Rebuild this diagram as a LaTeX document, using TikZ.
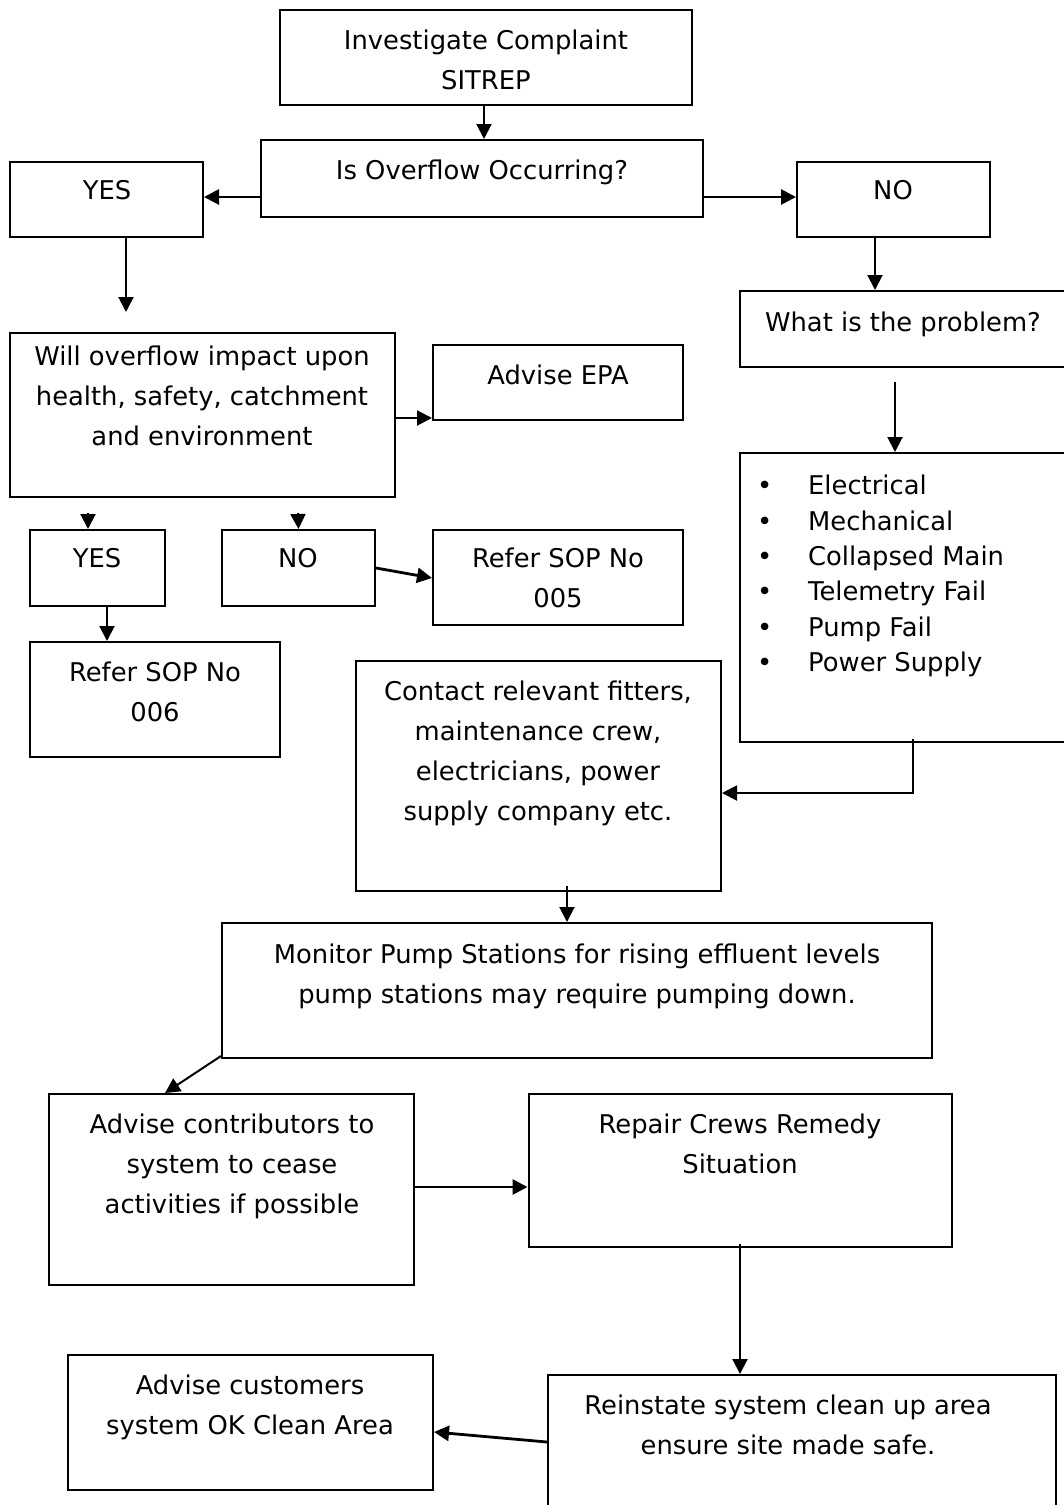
\documentclass[tikz,border=0pt]{standalone}
\usepackage{fontspec}
\setmainfont{DejaVu Sans}
\usetikzlibrary{arrows.meta}
\begin{document}
\begin{tikzpicture}[x=1pt,y=-1pt,
  box/.style={draw=black,line width=2pt,inner sep=0pt},
  txt/.style={align=center,inner sep=0pt,font=\fontsize{25.8}{40}\selectfont},
  arr/.style={draw=black,line width=2pt,-{Triangle[length=15pt,width=15pt]}},
  thickarr/.style={arr,line width=2.8pt}]
\clip (0,0) rectangle (1064,1505);
\fill[white] (0,0) rectangle (1064,1505);

% boxes
\node[box,minimum width=412pt,minimum height=95pt]  (b1)   at (486,57.5) {};
\node[box,minimum width=442pt,minimum height=77pt]  (b2)   at (482,178.5) {};
\node[box,minimum width=193pt,minimum height=75pt]  (yes1) at (106.5,199.5) {};
\node[box,minimum width=193pt,minimum height=75pt]  (no1)  at (893.5,199.5) {};
\node[box,minimum width=335pt,minimum height=76pt]  (what) at (907.5,329) {};
\node[box,minimum width=335pt,minimum height=289pt] (bul)  at (907.5,597.5) {};
\node[box,minimum width=385pt,minimum height=164pt] (wil)  at (202.5,415) {};
\node[box,minimum width=250pt,minimum height=75pt]  (epa)  at (558,382.5) {};
\node[box,minimum width=135pt,minimum height=76pt]  (yes2) at (97.5,568) {};
\node[box,minimum width=153pt,minimum height=76pt]  (no2)  at (298.5,568) {};
\node[box,minimum width=250pt,minimum height=95pt]  (s005) at (558,577.5) {};
\node[box,minimum width=250pt,minimum height=115pt] (s006) at (155,699.5) {};
\node[box,minimum width=365pt,minimum height=230pt] (cont) at (538.5,776) {};
\node[box,minimum width=710pt,minimum height=135pt] (mon)  at (577,990.5) {};
\node[box,minimum width=365pt,minimum height=191pt] (advc) at (231.5,1189.5) {};
\node[box,minimum width=423pt,minimum height=153pt] (rep)  at (740,1170.5) {};
\node[box,minimum width=508pt,minimum height=140pt] (rein) at (802,1445) {};
\node[box,minimum width=365pt,minimum height=135pt] (cust) at (250.5,1422.5) {};

% texts
\node[txt] (b1t)   at (486,60) {Investigate Complaint\\SITREP};
\node[txt] (b2t)   at (482,172) {Is Overflow Occurring?};
\node[txt] (yes1t) at (107,190) {YES};
\node[txt] (no1t)  at (893,190) {NO};
\node[txt] (whatt) at (903,324) {What is the problem?};
\node[txt] (wilt)  at (202,396) {Will overflow impact upon\\health, safety, catchment\\and environment};
\node[txt] (epat)  at (558,375) {Advise EPA};
\node[txt] (yes2t) at (97,558) {YES};
\node[txt] (no2t)  at (298,558) {NO};
\node[txt] (s005t) at (558,578) {Refer SOP No\\005};
\node[txt] (s006t) at (155,691.5) {Refer SOP No\\006};
\node[txt,align=left,anchor=west,font=\fontsize{25.8}{35.4}\selectfont] (bult) at (757,576)
  {\makebox[51pt][l]{•}Electrical\\
   \makebox[51pt][l]{•}Mechanical\\
   \makebox[51pt][l]{•}Collapsed Main\\
   \makebox[51pt][l]{•}Telemetry Fail\\
   \makebox[51pt][l]{•}Pump Fail\\
   \makebox[51pt][l]{•}Power Supply};
\node[txt] (contt) at (538,753.5) {Contact relevant fitters,\\maintenance crew,\\electricians, power\\supply company etc.};
\node[txt] (mont)  at (577,976) {Monitor Pump Stations for rising effluent levels\\pump stations may require pumping down.};
\node[txt] (advct) at (232,1166) {Advise contributors to\\system to cease\\activities if possible};
\node[txt] (rept)  at (740,1144) {Repair Crews Remedy\\Situation};
\node[txt] (reint) at (788,1425) {Reinstate system clean up area\\ensure site made safe.};
\node[txt] (custt) at (250,1407) {Advise customers\\system OK Clean Area};

% free ends of the short arrows
\coordinate (c1e) at (126,312);
\coordinate (c2) at (895,382);
\coordinate (c3) at (88,513);
\coordinate (c4) at (298,513);

% connectors
\draw[arr] ([xshift=-2pt]b1.south) -- ([xshift=2pt]b2.north);
\draw[thickarr] ([yshift=-18.5pt]b2.west) -- ([yshift=2.5pt]yes1.east);
\draw[thickarr] ([yshift=-18.5pt]b2.east) -- ([yshift=2.5pt]no1.west);
\draw[arr] ([xshift=19.5pt]yes1.south) -- (c1e);
\draw[arr] ([xshift=-18.5pt]no1.south) -- ([xshift=-32.5pt]what.north);
\draw[arr] (c2) -- ([xshift=-12.5pt]bul.north);
\draw[arr] ([yshift=-3pt]wil.east) -- ([yshift=-35.5pt]epa.west);
\draw[arr] (c3) -- ([xshift=-9.5pt]yes2.north);
\draw[arr] (c4) -- (no2.north);
\draw[thickarr] (no2.east) -- ([yshift=-0.5pt]s005.west);
\draw[arr] ([xshift=9.5pt]yes2.south) -- ([xshift=-48pt]s006.north);
\draw[arr] ([xshift=5.5pt,yshift=4pt]bul.south) |- ([yshift=-17pt]cont.east);
\draw[arr] ([xshift=28.5pt,yshift=6pt]cont.south) -- ([xshift=-10pt]mon.north);
\draw[arr] ([yshift=3pt]mon.south west) -- ([xshift=-66.5pt]advc.north);
\draw[thickarr] ([yshift=2.5pt]advc.east) -- ([yshift=-16.5pt]rep.west);
\draw[arr] ([yshift=4pt]rep.south) -- ([xshift=-62pt]rein.north);
\draw[thickarr] ([yshift=3pt]rein.west) -- ([yshift=-9.5pt]cust.east);
\end{tikzpicture}
\end{document}
